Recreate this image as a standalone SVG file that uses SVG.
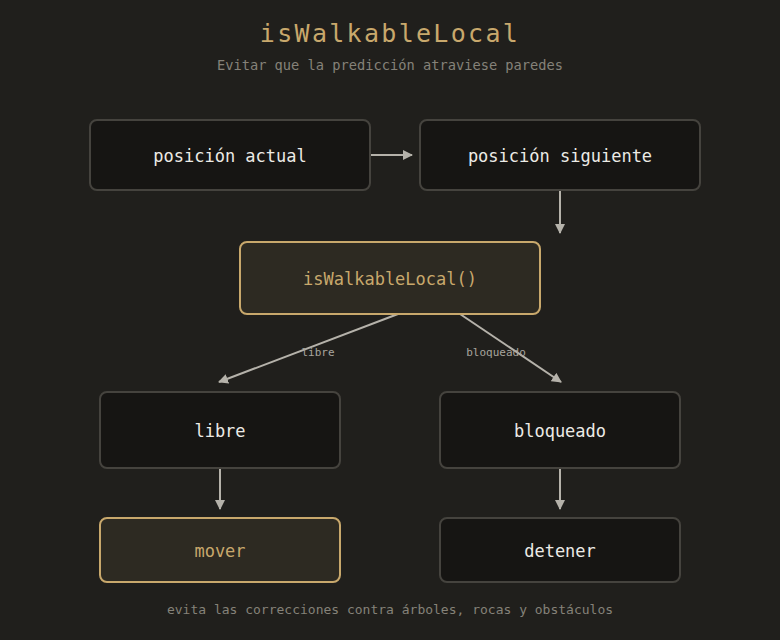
<svg xmlns="http://www.w3.org/2000/svg" width="780" height="640" viewBox="0 0 780 640">
<style>
text{font-family:"DejaVu Sans Mono","Liberation Mono",monospace;text-anchor:middle}
.n{fill:#161513;stroke:#45433e;stroke-width:2}
.g{fill:#2d2a22;stroke:#c8a86c;stroke-width:2}
.t{fill:#ecebe6;font-size:17px}
.tg{fill:#c8a86c;font-size:17px}
.c{stroke:#b5b2aa;stroke-width:2;fill:none;marker-end:url(#a)}
.l{fill:#a8a59e;font-size:11px}
</style>
<defs><marker id="a" markerWidth="10" markerHeight="10" refX="9" refY="5" orient="auto" markerUnits="userSpaceOnUse"><path d="M0,0 L10,5 L0,10 Z" fill="#b5b2aa"/></marker></defs>
<rect width="780" height="640" fill="#201f1c"/>
<text x="390" y="42" fill="#c8a86c" font-size="25" letter-spacing="2.3">isWalkableLocal</text>
<text x="390" y="70" fill="#858279" font-size="13.7">Evitar que la predicción atraviese paredes</text>
<g id="connectors">
<line class="c" x1="371" y1="155" x2="412" y2="155"/>
<line class="c" x1="560" y1="190" x2="560" y2="233"/>
<line class="c" x1="398" y1="314" x2="219" y2="382"/>
<line class="c" x1="460" y1="314" x2="561" y2="382"/>
<line class="c" x1="220" y1="468" x2="220" y2="509"/>
<line class="c" x1="560" y1="468" x2="560" y2="509"/>
<text class="l" x="318" y="356">libre</text>
<text class="l" x="496" y="356">bloqueado</text>
</g>
<g id="actual"><rect class="n" x="90" y="120" width="280" height="70" rx="7"/><text class="t" x="230" y="162">posición actual</text></g>
<g id="siguiente"><rect class="n" x="420" y="120" width="280" height="70" rx="7"/><text class="t" x="560" y="162">posición siguiente</text></g>
<g id="check"><rect class="g" x="240" y="242" width="300" height="72" rx="7"/><text class="tg" x="390" y="285">isWalkableLocal()</text></g>
<g id="libre"><rect class="n" x="100" y="392" width="240" height="76" rx="7"/><text class="t" x="220" y="437">libre</text></g>
<g id="bloqueado"><rect class="n" x="440" y="392" width="240" height="76" rx="7"/><text class="t" x="560" y="437">bloqueado</text></g>
<g id="mover"><rect class="g" x="100" y="518" width="240" height="64" rx="7"/><text class="tg" x="220" y="557">mover</text></g>
<g id="detener"><rect class="n" x="440" y="518" width="240" height="64" rx="7"/><text class="t" x="560" y="557">detener</text></g>
<text x="390" y="614" fill="#858279" font-size="13">evita las correcciones contra árboles, rocas y obstáculos</text>
</svg>
